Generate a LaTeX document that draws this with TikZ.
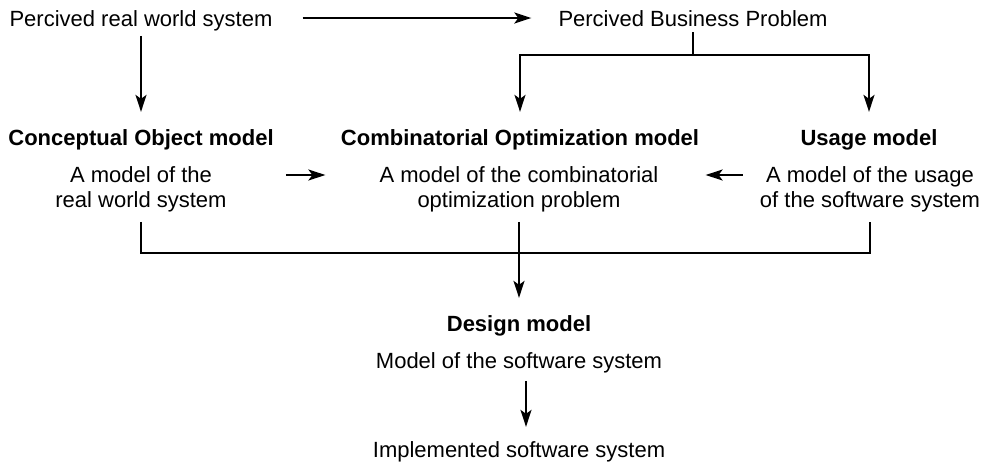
\documentclass[tikz,border=0pt]{standalone}
\usepackage{fontspec}
\setmainfont{Liberation Sans}
\usetikzlibrary{arrows.meta}
\begin{document}
\begin{tikzpicture}[x=1pt,y=-1pt,
  lbl/.style={inner sep=0pt, font=\fontsize{22}{25}\selectfont, anchor=base},
  ttl/.style={inner sep=0pt, font=\fontsize{22}{25}\selectfont\bfseries, anchor=base},
  sub/.style={inner sep=0pt, font=\fontsize{22}{25}\selectfont, align=center, anchor=north},
  ln/.style={line width=2pt},
  arr/.style={line width=2pt, -{Stealth[length=17pt,width=11pt,inset=4pt]}}]
\useasboundingbox (0,0) rectangle (995,464);
\node[lbl] (pw) at (141,26) {Percived real world system};
\node[lbl] (pb) at (693,26) {Percived Business Problem};
\node[ttl] (ct) at (141,145) {Conceptual Object model};
\node[ttl] (ot) at (520,145) {Combinatorial Optimization model};
\node[ttl] (ut) at (869,145) {Usage model};
\node[sub] (cs) at (141,166) {A model of the\\real world system};
\node[sub] (os) at (519,166) {A model of the combinatorial\\optimization problem};
\node[sub] (us) at (870,166) {A model of the usage\\of the software system};
\node[ttl] (dt) at (519,331) {Design model};
\node[lbl] (ds) at (519,368) {Model of the software system};
\node[lbl] (im) at (519,457) {Implemented software system};
% top
\draw[arr, shorten <=30pt, shorten >=27pt] (pw.east |- 0,18) -- (pb.west |- 0,18);
\draw[arr, shorten <=5pt, shorten >=17pt] (pw.south) -- (ct.north);
\coordinate (bj) at (693,55);
\draw[ln] ([yshift=-6pt]pb.south) -- (bj);
\draw[arr] (bj) -| ([yshift=17pt]ot.north);
\draw[arr] (bj) -| ([yshift=17pt]ut.north);
% side arrows
\draw[arr, shorten <=59pt, shorten >=54pt] (cs.east |- 0,175) -- (os.west |- 0,175);
\draw[arr, shorten <=17pt, shorten >=47pt] (us.west |- 0,175) -- (os.east |- 0,175);
% bottom bracket
\draw[ln] ([yshift=-10pt]cs.south) -- ++(0,31) -| ([yshift=-10pt]us.south);
\draw[arr] ([yshift=-10pt]os.south) -- ([yshift=17pt]dt.north);
\draw[arr] ([xshift=7pt,yshift=-8pt]ds.south) -- ([xshift=7pt,yshift=14pt]im.north);
\end{tikzpicture}
\end{document}
